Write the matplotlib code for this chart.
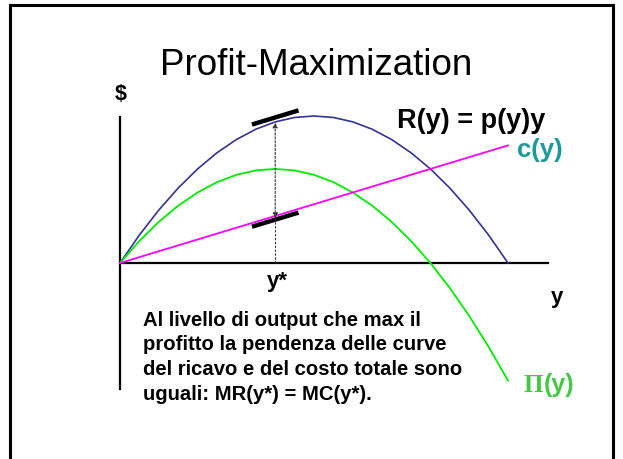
import matplotlib
matplotlib.use("Agg")
import matplotlib.pyplot as plt
from matplotlib.patches import Rectangle

plt.rcParams['font.family'] = ['Liberation Sans', 'DejaVu Sans']

# output levels and the curves
y_out = [0, 0.5, 1, 1.5, 2, 2.5, 3, 3.5, 4, 4.5, 5, 5.5, 6, 6.5, 7, 7.5, 8, 8.5, 9, 9.5, 10]
ricavo = [0, 1.9, 3.6, 5.1, 6.4, 7.5, 8.4, 9.1, 9.6, 9.9, 10, 9.9, 9.6, 9.1, 8.4, 7.5, 6.4, 5.1, 3.6, 1.9, 0]
profitto = [0, 1.5, 2.8, 3.9, 4.8, 5.5, 6.0, 6.3, 6.4, 6.3, 6.0, 5.5, 4.8, 3.9, 2.8, 1.5, 0, -1.7, -3.6, -5.7, -8.0]
costo_x = [0, 10]
costo = [0, 8.0]

y_star = 4
tang_alto_x = [3.4, 4.6]
tang_alto = [9.42, 10.38]
tang_basso_x = [3.4, 4.6]
tang_basso = [2.47, 3.43]

W, H = 623, 459
fig = plt.figure(figsize=(W / 100, H / 100), dpi=100)
ax = fig.add_axes([0, 0, 1, 1])
ax.set_xlim(-120 / 38.8, (W - 120) / 38.8)
ax.set_ylim(-(H - 263) / 14.7, 263 / 14.7)
ax.axis('off')

# cornice della slide
fig.patches.append(Rectangle((10 / W, -0.02), 603 / W, 1 - 5 / H + 0.02,
                             transform=fig.transFigure, fill=False,
                             edgecolor='black', linewidth=2.2))

# assi
ax.plot([0, 0], [9.95, -8.6], color='black', lw=1.6)
ax.plot([0, 11.03], [0, 0], color='black', lw=1.6)

ax.plot(y_out, ricavo, color='#333399', lw=1.2)
ax.plot(y_out, profitto, color='#00ee00', lw=1.3)
ax.plot(costo_x, costo, color='#ff00ff', lw=1.3)

ax.plot(tang_alto_x, tang_alto, color='black', lw=3.2, solid_capstyle='butt')
ax.plot(tang_basso_x, tang_basso, color='black', lw=3.2, solid_capstyle='butt')

# freccia doppia tratteggiata a y*
ax.annotate('', xy=(y_star, 9.55), xytext=(y_star, 3.06),
            arrowprops=dict(arrowstyle='<|-|>', linestyle=(0, (2, 1.5)), color='#333333',
                            lw=0.8, mutation_scale=7, shrinkA=0, shrinkB=0))
ax.plot([y_star, y_star], [3.06, 0], color='#333333', lw=0.8, ls=(0, (2, 1.5)))


def px(x, y):
    return x / W, 1 - y / H


fig.text(*px(316, 75), 'Profit-Maximization', fontsize=26.5, ha='center', va='baseline')
fig.text(*px(121, 95), '$', fontsize=15.5, fontweight='bold', ha='center', va='center')
fig.text(*px(397, 128), 'R(y) = p(y)y', fontsize=19.5, fontweight='bold', ha='left', va='baseline')
fig.text(*px(517, 157), 'c(y)', fontsize=18.5, fontweight='bold', color='#1a9a9a',
         ha='left', va='baseline')
fig.text(*px(277, 282), 'y*', fontsize=16, fontweight='bold', ha='center', va='center')
fig.text(*px(557, 297), 'y', fontsize=16, fontweight='bold', ha='center', va='center')

pi = fig.text(*px(524, 392), 'Π', fontsize=18, fontweight='bold', color='#46c846',
              family='Liberation Serif', ha='left', va='baseline')
ax.annotate('(y)', xy=(1, 0), xycoords=pi, fontsize=18, fontweight='bold', color='#46c846',
            ha='left', va='bottom')

righe = ['Al livello di output che max il',
         'profitto la pendenza delle curve',
         'del ricavo e del costo totale sono',
         'uguali: MR(y*) = MC(y*).']
for i, riga in enumerate(righe):
    fig.text(*px(143, 325.5 + 24.7 * i), riga, fontsize=14.6, fontweight='bold',
             ha='left', va='baseline')

fig.savefig('out.png', dpi=100)
